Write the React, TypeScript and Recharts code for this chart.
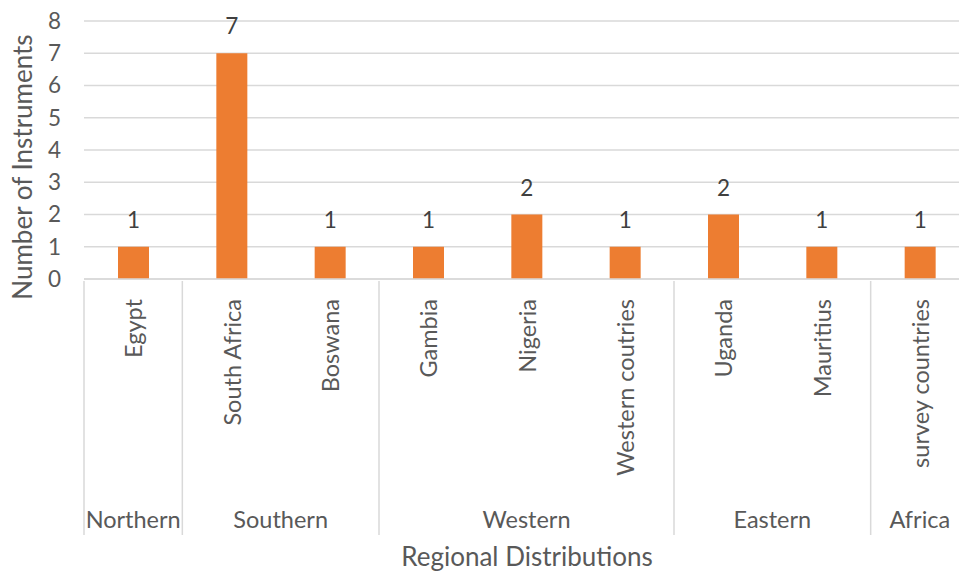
import { BarChart, Bar, XAxis, YAxis, CartesianGrid, LabelList } from "recharts";

const countries = [
  "Egypt",
  "South Africa",
  "Boswana",
  "Gambia",
  "Nigeria",
  "Western coutries",
  "Uganda",
  "Mauritius",
  "survey countries",
];
const regions = [
  "Northern",
  "Southern",
  "Southern",
  "Western",
  "Western",
  "Western",
  "Eastern",
  "Eastern",
  "Africa",
];
const instruments = [1, 7, 1, 1, 2, 1, 2, 1, 1];
const yTicks = [0, 1, 2, 3, 4, 5, 6, 7, 8];

const data = countries.map((name, i) => ({
  name,
  region: regions[i],
  value: instruments[i],
}));

const FONT = "Lato, 'Open Sans', sans-serif";
const TEXT = "#595959";
const GRID = "#D9D9D9";
const CHART_W = 980;
const MARGIN = { top: 21, right: 11, left: 0, bottom: 0 };
const Y_W = 84;
const X_H = 293;
const BAND = (CHART_W - MARGIN.left - MARGIN.right - Y_W) / countries.length;

const CategoryTick = (props: any) => {
  const { x, y, payload, index } = props;
  const region = regions[index];
  const first = index === 0 || regions[index - 1] !== region;
  const last = index === regions.length - 1;
  let count = 0;
  for (let j = index; j < regions.length && regions[j] === region; j++) count++;
  return (
    <g>
      <text
        x={0}
        y={0}
        transform={`translate(${x},${y + 18}) rotate(-90)`}
        textAnchor="end"
        dominantBaseline="central"
        fill={TEXT}
        fontSize={23.5}
        fontFamily={FONT}
      >
        {payload.value}
      </text>
      {first && (
        <>
          <line x1={x - BAND / 2} x2={x - BAND / 2} y1={y} y2={y + 254} stroke={GRID} strokeWidth={1.5} />
          <text
            x={x + ((count - 1) * BAND) / 2}
            y={y + 247}
            textAnchor="middle"
            fill={TEXT}
            fontSize={23.5}
            fontFamily={FONT}
          >
            {region}
          </text>
        </>
      )}
      {last && (
        <line x1={x + BAND / 2} x2={x + BAND / 2} y1={y} y2={y + 254} stroke={GRID} strokeWidth={1.5} />
      )}
    </g>
  );
};

export default function App() {
  return (
    <div
      style={{
        position: "absolute",
        left: 0,
        top: 0,
        width: 959,
        height: 572,
        overflow: "hidden",
        background: "#fff",
      }}
    >
      <BarChart width={CHART_W} height={572} data={data} margin={MARGIN}>
        <CartesianGrid vertical={false} stroke={GRID} strokeWidth={1.3} />
        <XAxis
          dataKey="name"
          interval={0}
          height={X_H}
          tickLine={false}
          tickSize={0}
          axisLine={{ stroke: GRID, strokeWidth: 1.5 }}
          tick={<CategoryTick />}
        />
        <YAxis
          width={Y_W}
          domain={[0, 8]}
          ticks={yTicks}
          interval={0}
          axisLine={false}
          tickLine={false}
          tickSize={0}
          tickMargin={23}
          tick={{ fill: TEXT, fontSize: 22.5, fontFamily: FONT }}
        />
        <Bar dataKey="value" fill="#ED7D31" barSize={31} isAnimationActive={false}>
          <LabelList
            dataKey="value"
            position="top"
            offset={19}
            fill="#404040"
            fontSize={22.5}
            fontFamily={FONT}
          />
        </Bar>
        <text
          x={0}
          y={0}
          transform="translate(32,167) rotate(-90)"
          textAnchor="middle"
          fill={TEXT}
          fontSize={26}
          fontFamily={FONT}
        >
          Number of Instruments
        </text>
        <text x={527} y={566} textAnchor="middle" fill={TEXT} fontSize={26} fontFamily={FONT}>
          Regional Distributions
        </text>
      </BarChart>
    </div>
  );
}
